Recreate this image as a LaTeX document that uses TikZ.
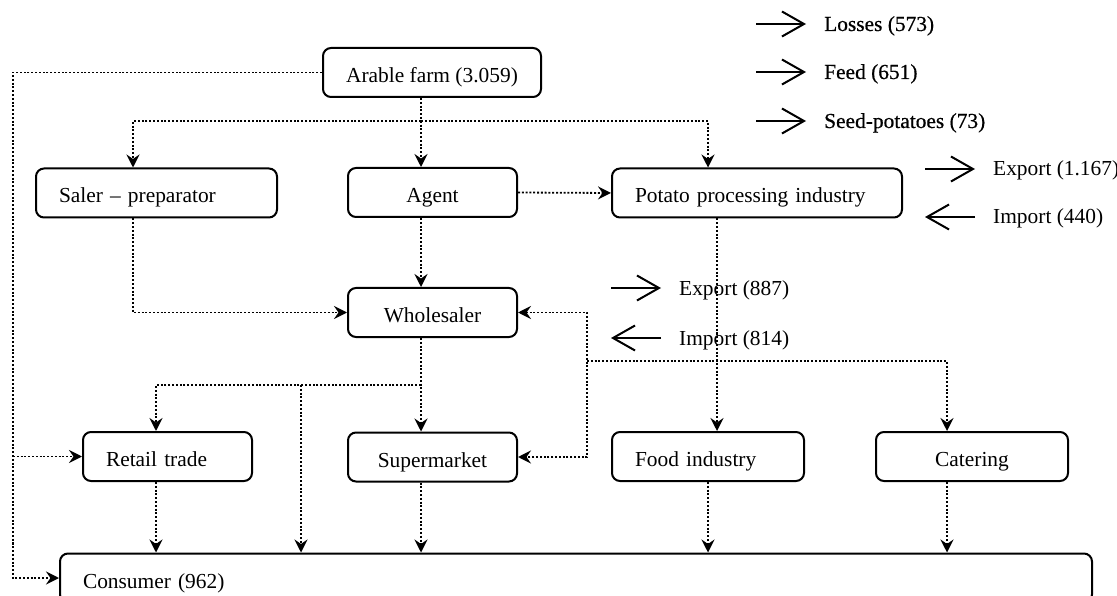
\documentclass[tikz,border=0pt]{standalone}
\usepackage{fontspec}
\setmainfont{Liberation Serif}
\newfontfamily\heavyserif[FakeBold=0.6]{Liberation Serif}
\usetikzlibrary{arrows.meta}
\begin{document}
\begin{tikzpicture}[x=1pt,y=-1pt,
  >={Stealth[length=13pt,width=13pt,inset=4.5pt]},
  box/.style={draw, line width=2pt, rounded corners=8pt, minimum height=49pt,
    inner xsep=23pt, inner ysep=0pt, text height=21pt, text depth=1pt,
    font=\fontsize{21.4}{24}\selectfont},
  leftbox/.style={box, align=left},
  midbox/.style={box, align=center},
  lbl/.style={inner sep=0pt, anchor=base west, font=\fontsize{21.4}{24}\selectfont},
  heavylbl/.style={lbl, font=\fontsize{21.4}{24}\heavyserif},
  flow/.style={draw, line width=1.8pt, dash pattern=on 2pt off 1.8pt, ->},
  trade/.style={draw, line width=2pt, -{Straight Barb[length=22pt,width=25pt]}}
]
\useasboundingbox (0,0) rectangle (1117,596);
\clip (0,0) rectangle (1117,596);

% boxes
\node[midbox, minimum width=218pt] (arable) at (432,72.5) {Arable farm (3.059)};
\node[leftbox, text width=195pt] (saler) at (156.5,193) {Saler -- preparator};
\node[midbox, minimum width=169pt] (agent) at (432.5,192.5) {Agent};
\node[leftbox, text width=244pt] (potato) at (757,193) {Potato processing industry};
\node[midbox, minimum width=169pt] (wholesaler) at (432.5,312.5) {Wholesaler};
\node[leftbox, text width=123pt] (retail) at (167.5,456.5) {Retail trade};
\node[midbox, minimum width=169pt] (supermarket) at (432.5,457) {Supermarket};
\node[leftbox, text width=146pt] (food) at (708,456.5) {Food industry};
\node[midbox, minimum width=192pt] (catering) at (972,456.5) {Catering};
\node[leftbox, text width=986pt] (consumer) at (576,578) {Consumer (962)};

% columns and branch points of the flow lines
\coordinate (xl) at (13,0);
\coordinate (xs) at (133,0);
\coordinate (xa) at (421,0);
\coordinate (xr) at (156,0);
\coordinate (xm) at (301,0);
\coordinate (xp) at (708,0);
\coordinate (xq) at (717,0);
\coordinate (xf) at (587,0);
\coordinate (xc) at (947,0);
\coordinate (fork1) at (421,121);
\coordinate (fork2) at (421,385);
\coordinate (fork3) at (587,361);

% flows
\draw[flow] (arable.west) -| (xl |- consumer.west) -- (consumer.west);
\draw[flow] (xl |- retail.west) -- (retail.west);
\draw[flow] (arable.south -| xa) -- (agent.north -| xa);
\draw[flow] (fork1) -| (saler.north -| xs);
\draw[flow] (fork1) -| (potato.north -| xp);
\draw[flow] (agent.east) -- (potato.west);
\draw[flow] (saler.south -| xs) |- (wholesaler.west);
\draw[flow] (agent.south -| xa) -- (wholesaler.north -| xa);
\draw[flow] (wholesaler.south -| xa) -- (supermarket.north -| xa);
\draw[flow] (fork2) -| (retail.north -| xr);
\draw[flow] (fork2 -| xm) -- (consumer.north -| xm);
\draw[flow] (retail.south -| xr) -- (consumer.north -| xr);
\draw[flow] (supermarket.south -| xa) -- (consumer.north -| xa);
\draw[flow] (food.south -| xp) -- (consumer.north -| xp);
\draw[flow] (catering.south -| xc) -- (consumer.north -| xc);
\draw[flow, <->] (wholesaler.east) -| (xf |- supermarket.east) -- (supermarket.east);
\draw[flow] (fork3) -| (catering.north -| xc);
\draw[flow] (potato.south -| xq) -- (food.north -| xq);

% outflows and trade
\node[heavylbl] (losses) at (824,31) {Losses (573)};
\node[heavylbl] (feed) at (824,79) {Feed (651)};
\node[heavylbl] (seed) at (824,128) {Seed-potatoes (73)};
\node[lbl] (exp1) at (993,176) {Export (1.167)};
\node[lbl] (imp1) at (993,224) {Import (440)};
\node[lbl] (exp2) at (679,295) {Export (887)};
\node[lbl] (imp2) at (679,345) {Import (814)};

\draw[trade] ([shift={(-68,-7)}]losses.base west) -- ([shift={(-18,-7)}]losses.base west);
\draw[trade] ([shift={(-68,-7)}]feed.base west) -- ([shift={(-18,-7)}]feed.base west);
\draw[trade] ([shift={(-68,-7)}]seed.base west) -- ([shift={(-18,-7)}]seed.base west);
\draw[trade] ([shift={(-68,-7)}]exp1.base west) -- ([shift={(-18,-7)}]exp1.base west);
\draw[trade] ([shift={(-18,-7)}]imp1.base west) -- ([shift={(-68,-7)}]imp1.base west);
\draw[trade] ([shift={(-68,-7)}]exp2.base west) -- ([shift={(-18,-7)}]exp2.base west);
\draw[trade] ([shift={(-18,-7)}]imp2.base west) -- ([shift={(-68,-7)}]imp2.base west);
\end{tikzpicture}
\end{document}
